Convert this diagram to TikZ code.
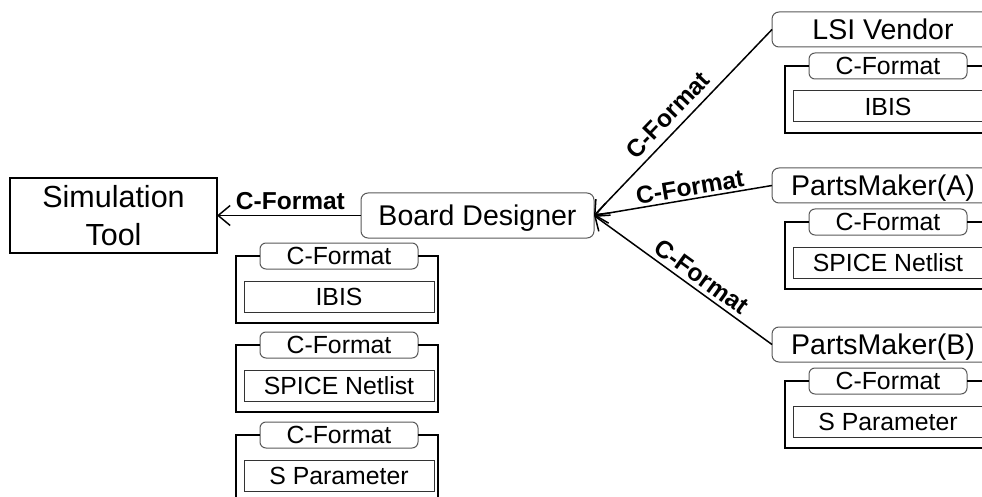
\documentclass[tikz,border=0pt]{standalone}
\usepackage{fontspec}
\setmainfont{Liberation Sans}
\usetikzlibrary{arrows.meta}

\tikzset{
  every node/.style={inner sep=0pt, outer sep=0pt},
  simbox/.style={draw=black, line width=1.2pt, minimum width=207pt, minimum height=75pt,
    align=center, font=\fontsize{30.5}{38}\selectfont},
  titlebox/.style={draw=black!65, line width=1pt, rounded corners=7pt, fill=white,
    minimum width=222pt, minimum height=35pt, text height=20.4pt, text depth=0pt,
    font=\fontsize{28.5}{32}\selectfont},
  fmtlabel/.style={draw=black!65, line width=1pt, rounded corners=6pt, fill=white,
    minimum width=158pt, minimum height=26pt, text height=17.8pt, text depth=0pt,
    font=\fontsize{24.8}{28}\selectfont, anchor=north west},
  payload/.style={draw=black!80, line width=1pt, minimum width=190pt, minimum height=31pt,
    text height=17.8pt, text depth=0pt, font=\fontsize{24.8}{28}\selectfont, anchor=north west},
  frame/.style={draw=black, line width=2pt},
  link/.style={draw=black, line width=1.5pt,
    {Straight Barb[length=12pt,width=20pt,line width=1.5pt]}-},
  linklabel/.style={font=\bfseries\fontsize{24.5}{28}\selectfont, sloped, above,
    inner sep=5pt, text height=17.5pt, text depth=0pt},
}

\begin{document}
\begin{tikzpicture}[x=1pt, y=-1pt]
  \useasboundingbox (0,0) rectangle (982,497);
  \clip (0,0) rectangle (982,497);

  % main actors
  \node[simbox] (sim) at (113.5,215.5) {Simulation\\Tool};
  \node[titlebox, minimum width=233pt, minimum height=45pt] (bd) at (477.5,215.5) {Board Designer};
  \node[titlebox, anchor=west] (lsi) at (772,29.5) {LSI Vendor};
  \node[titlebox, anchor=west] (pma) at (772,185.5) {PartsMaker(A)};
  \node[titlebox, anchor=west] (pmb) at (772,344.5) {PartsMaker(B)};

  % data packages held by the board designer
  \node[fmtlabel] (b1l) at (260,243) {C-Format};
  \node[payload]  (b1p) at (244,281) {IBIS};
  \draw[frame] (b1l.west) -| (236,323) -| (438,256) -- (b1l.east);

  \node[fmtlabel] (b2l) at (260,332) {C-Format};
  \node[payload]  (b2p) at (244,370) {SPICE Netlist};
  \draw[frame] (b2l.west) -| (236,412) -| (438,345) -- (b2l.east);

  \node[fmtlabel] (b3l) at (260,422) {C-Format};
  \node[payload]  (b3p) at (244,460) {S Parameter};
  \draw[frame] (b3l.west) -| (236,510) -| (438,435) -- (b3l.east);

  % data packages from the suppliers
  \node[fmtlabel] (s1l) at (809,53) {C-Format};
  \node[payload]  (s1p) at (793,91) {IBIS};
  \draw[frame] (s1l.west) -| (785,133) -| (987,66) -- (s1l.east);

  \node[fmtlabel] (s2l) at (809,209) {C-Format};
  \node[payload]  (s2p) at (793,247) {SPICE Netlist};
  \draw[frame] (s2l.west) -| (785,289) -| (987,222) -- (s2l.east);

  \node[fmtlabel] (s3l) at (809,368) {C-Format};
  \node[payload]  (s3p) at (793,406) {S Parameter};
  \draw[frame] (s3l.west) -| (785,448) -| (987,381) -- (s3l.east);

  % exchanges
  \draw[link] (sim.east) -- (bd.west) node[linklabel, pos=0.51, inner sep=6pt] {C-Format};
  \draw[link] (bd.east) -- (lsi.west) node[linklabel, pos=0.48, inner sep=8pt] {C-Format};
  \draw[link] (bd.east) -- (pma.west) node[linklabel, pos=0.55, inner sep=3.5pt] {C-Format};
  \draw[link] (bd.east) -- (pmb.west) node[linklabel, pos=0.56] {C-Format};
\end{tikzpicture}
\end{document}
